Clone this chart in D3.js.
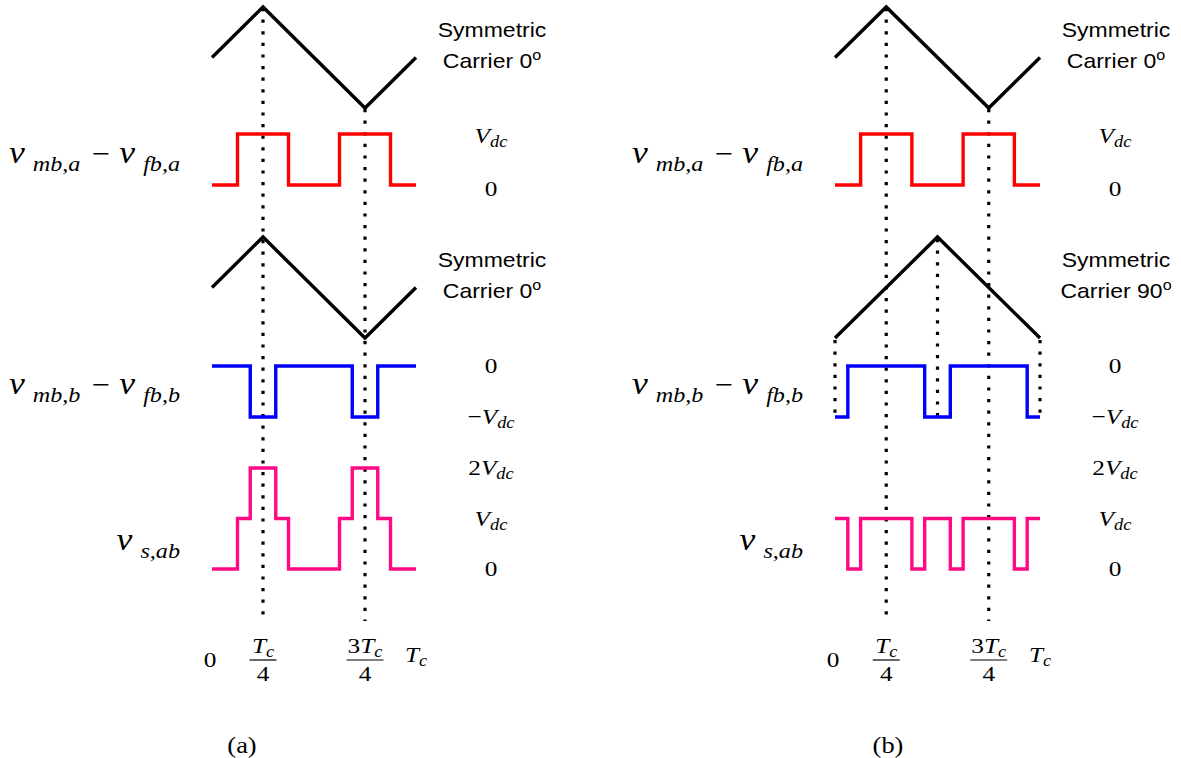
<!DOCTYPE html>
<html>
<head>
<meta charset="utf-8">
<script src="https://cdn.jsdelivr.net/npm/d3@7"></script>
<style>
  body { margin: 0; background: #fff; }
  svg { display: block; }
</style>
</head>
<body>
<svg id="fig" width="1181" height="758"></svg>
<script>
// ---- Data -----------------------------------------------------------------
// Carrier vertices: [t / Tc, normalised carrier value]
const carrier0  = [[0, 0], [0.25, 1], [0.75, -1], [1, 0]];
const carrier90 = [[0, -1], [0.5, 1], [1, -1]];

// Switched voltages: breakpoints [t / Tc, level in units of Vdc], held until the next one
const vA     = [[0, 0], [0.125, 1], [0.375, 0], [0.625, 1], [0.875, 0], [1, 0]];
const vB0    = [[0, 0], [0.1875, -1], [0.3125, 0], [0.6875, -1], [0.8125, 0], [1, 0]];
const vB90   = [[0, -1], [0.0625, 0], [0.4375, -1], [0.5625, 0], [0.9375, -1], [1, -1]];
const vS0    = [[0, 0], [0.125, 1], [0.1875, 2], [0.3125, 1], [0.375, 0],
                [0.625, 1], [0.6875, 2], [0.8125, 1], [0.875, 0], [1, 0]];
const vS90   = [[0, 1], [0.0625, 0], [0.125, 1], [0.375, 0], [0.4375, 1],
                [0.5625, 0], [0.625, 1], [0.875, 0], [0.9375, 1], [1, 1]];

// Time axis ticks (fractions of Tc) and their labels as [numerator, subscript, denominator]
const timeTicks      = [0, 0.25, 0.75, 1];
const timeTickLabels = [["0"], ["T", "c", "4"], ["3T", "c", "4"], ["T", "c"]];

// Level labels for each waveform row
const levelsA = [1, 0];
const levelsB = [0, -1];
const levelsS = [2, 1, 0];

const carrierTitles = ["Carrier 0", "Carrier 0", "Carrier 0", "Carrier 90"];
const captions = ["(a)", "(b)"];

// ---- Layout ---------------------------------------------------------------
const svg = d3.select("#fig");

const panels = [
  { x0: 212, x1: 416, carrierTop: carrier0, carrierBot: carrier0, vB: vB0, vS: vS0,
    titles: [carrierTitles[0], carrierTitles[1]], caption: captions[0], capX: 242, extraGuides: false },
  { x0: 835, x1: 1040, carrierTop: carrier0, carrierBot: carrier90, vB: vB90, vS: vS90,
    titles: [carrierTitles[2], carrierTitles[3]], caption: captions[1], capX: 888, extraGuides: true }
];

// vertical scales of each row (shared by both panels)
const yC1 = d3.scaleLinear().domain([-1, 1]).range([108, 7]);
const yA  = d3.scaleLinear().domain([0, 1]).range([185, 134]);
const yC2 = d3.scaleLinear().domain([-1, 1]).range([338, 237]);
const yB  = d3.scaleLinear().domain([-1, 0]).range([417, 366]);
const yS  = d3.scaleLinear().domain([0, 2]).range([569, 468]);
const guideBottom = 621;

const STRETCH = 1.15;   // horizontal stretch applied to all lettering
const sansFont = "'Liberation Sans', Arial, sans-serif";
const serifFont = "'Liberation Serif', 'Times New Roman', serif";

function stretchedText(g, x, y, anchor) {
  return g.append("text")
    .attr("transform", `translate(${x},${y}) scale(${STRETCH},1)`)
    .attr("text-anchor", anchor);
}

// V_dc style label, e.g. prefix "2" or "−"
function levelText(g, x, y, v) {
  const t = stretchedText(g, x, y, "middle")
    .attr("font-family", serifFont).attr("font-size", 22).attr("fill", "#000");
  if (v === 0) { t.text("0"); return; }
  const mag = Math.abs(v);
  const pre = (v < 0 ? "\u2212" : "") + (mag > 1 ? mag : "");
  if (pre) t.append("tspan").text(pre);
  t.append("tspan").attr("font-style", "italic").text("V");
  t.append("tspan").attr("font-style", "italic").attr("font-size", 16).attr("dy", 4).text("dc");
}

// v_{sub1} − v_{sub2} row label, right aligned
function rowLabel(g, xEnd, y, subs) {
  const t = stretchedText(g, xEnd, y, "end")
    .attr("font-family", serifFont).attr("fill", "#000");
  subs.forEach((s, i) => {
    if (i > 0) t.append("tspan").attr("font-size", 28).attr("dy", -8).attr("dx", 10).text("\u2212");
    t.append("tspan").attr("font-size", 31).attr("font-style", "italic")
      .attr("dy", i > 0 ? 0 : null).attr("dx", i > 0 ? 8 : null).text("v");
    t.append("tspan").attr("font-size", 21).attr("font-style", "italic")
      .attr("dx", 7).attr("dy", 8).text(s);
  });
}

panels.forEach(p => {
  const g = svg.append("g");
  const x = d3.scaleLinear().domain([0, 1]).range([p.x0, p.x1]);

  const lineC1 = d3.line().x(d => x(d[0])).y(d => yC1(d[1]));
  const lineC2 = d3.line().x(d => x(d[0])).y(d => yC2(d[1]));
  const step = ys => d3.line().curve(d3.curveStepAfter).x(d => x(d[0])).y(d => ys(d[1]));

  // dotted guides at Tc/4 and 3Tc/4, from the top carrier down to the time axis
  const guide = (xx, y0, y1) => g.append("line")
    .attr("x1", xx).attr("x2", xx).attr("y1", y0).attr("y2", y1)
    .attr("stroke", "#000").attr("stroke-width", 3.2)
    .attr("stroke-dasharray", "3.2,8.4");
  [0.25, 0.75].forEach(t => {
    const c = p.carrierTop.find(d => d[0] === t);
    guide(x(t), yC1(c[1]) + 1, guideBottom);
  });
  if (p.extraGuides) {
    p.carrierBot.forEach(d => guide(x(d[0]), yC2(d[1]) + 2, yB(-1)));
  }

  // carriers
  g.append("path").datum(p.carrierTop).attr("d", lineC1)
    .attr("fill", "none").attr("stroke", "#000").attr("stroke-width", 3.4);
  g.append("path").datum(p.carrierBot).attr("d", lineC2)
    .attr("fill", "none").attr("stroke", "#000").attr("stroke-width", 3.4);

  // switched voltages
  g.append("path").datum(vA).attr("d", step(yA))
    .attr("fill", "none").attr("stroke", "#ff0000").attr("stroke-width", 3.4);
  g.append("path").datum(p.vB).attr("d", step(yB))
    .attr("fill", "none").attr("stroke", "#0000ff").attr("stroke-width", 3.4);
  g.append("path").datum(p.vS).attr("d", step(yS))
    .attr("fill", "none").attr("stroke", "#ff0a84").attr("stroke-width", 3.4);

  // carrier titles
  const tx = x(1) + 76;
  [[37, 68, p.titles[0]], [267, 298, p.titles[1]]].forEach(([yA1, yA2, title]) => {
    stretchedText(g, tx, yA1, "middle").attr("font-family", sansFont)
      .attr("font-size", 20).attr("fill", "#000").text("Symmetric");
    const t = stretchedText(g, tx, yA2, "middle").attr("font-family", sansFont)
      .attr("font-size", 20).attr("fill", "#000");
    t.append("tspan").text(title);
    t.append("tspan").attr("font-size", 14).attr("dy", -8).text("o");
  });

  // level labels
  const lx = x(1) + 75;
  levelsA.forEach(v => levelText(g, lx, yA(v) + (v === 0 ? 11 : 9), v));
  levelsB.forEach(v => levelText(g, lx, yB(v) + 7, v));
  levelsS.forEach(v => levelText(g, lx, yS(v) + 7, v));

  // row labels
  const rx = x(0) - 32;
  rowLabel(g, rx, 163, ["mb,a", "fb,a"]);
  rowLabel(g, rx, 394, ["mb,b", "fb,b"]);
  rowLabel(g, rx, 550, ["s,ab"]);

  // time axis labels
  timeTicks.forEach((t, i) => {
    const lab = timeTickLabels[i];
    const cx = x(t);
    if (lab.length === 1) {
      stretchedText(g, cx - 2, 667, "middle").attr("font-family", serifFont)
        .attr("font-size", 22).attr("fill", "#000").text(lab[0]);
    } else if (lab.length === 2) {
      const tt = stretchedText(g, cx, 662, "middle").attr("font-family", serifFont)
        .attr("font-size", 22).attr("fill", "#000").attr("font-style", "italic");
      tt.append("tspan").text(lab[0]);
      tt.append("tspan").attr("font-size", 16).attr("dy", 4).text(lab[1]);
    } else {
      const num = stretchedText(g, cx, 653, "middle").attr("font-family", serifFont)
        .attr("font-size", 22).attr("fill", "#000");
      const digits = lab[0].replace("T", "");
      if (digits) num.append("tspan").text(digits);
      num.append("tspan").attr("font-style", "italic").text("T");
      num.append("tspan").attr("font-style", "italic").attr("font-size", 16).attr("dy", 4).text(lab[1]);
      const bw = digits ? 37 : 27;
      g.append("line").attr("x1", cx - bw / 2).attr("x2", cx + bw / 2)
        .attr("y1", 660).attr("y2", 660).attr("stroke", "#000").attr("stroke-width", 1.2);
      stretchedText(g, cx, 681, "middle").attr("font-family", serifFont)
        .attr("font-size", 22).attr("fill", "#000").text(lab[2]);
    }
  });

  // panel caption
  stretchedText(g, p.capX, 753, "middle").attr("font-family", serifFont)
    .attr("font-size", 23).attr("fill", "#000").text(p.caption);
});
</script>
</body>
</html>
